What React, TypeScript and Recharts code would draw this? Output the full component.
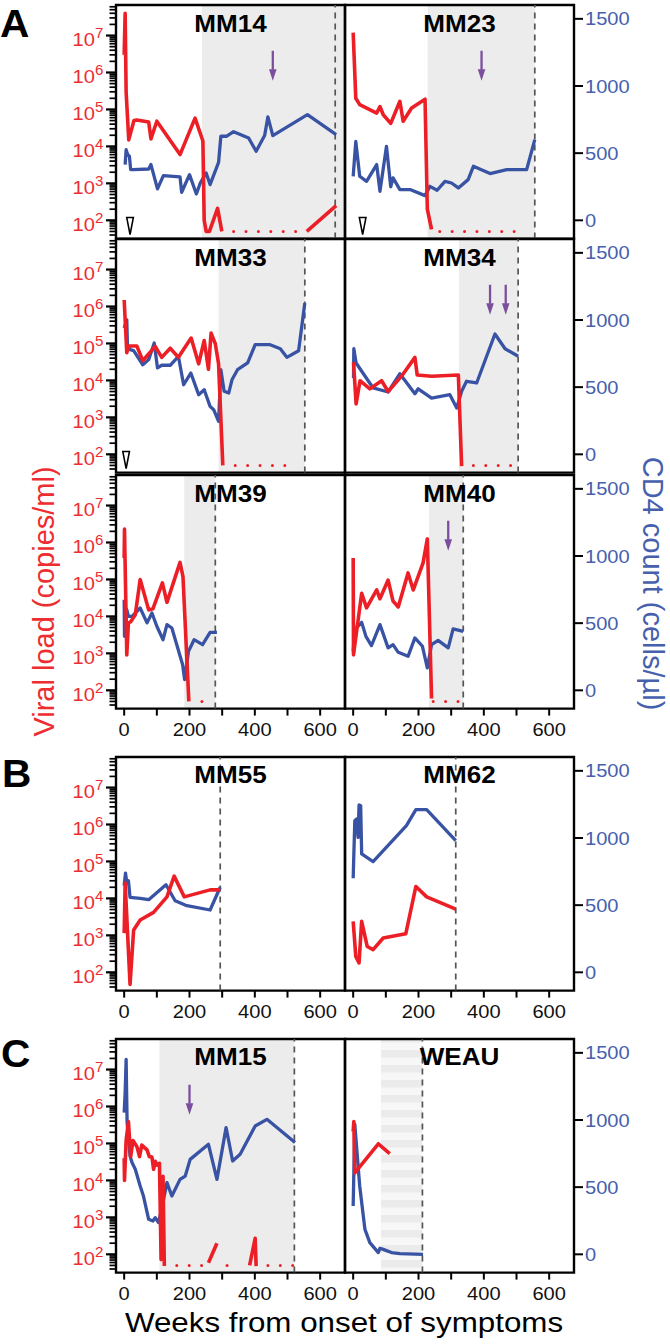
import React from 'react';
import { ComposedChart, Line, XAxis, YAxis, ReferenceArea, ReferenceLine, Scatter } from 'recharts';

const FONT = '"Liberation Sans", Arial, Helvetica, sans-serif';
const RED = '#ec1f27';
const RED_TXT = '#ee2d31';
const BLUE = '#3953a4';
const BLUE_TXT = '#4660ad';
const PURPLE = '#7c4f9e';
const SHADE = '#ececec';

// ---------- axes ----------
const X_DOMAIN = [-25, 676];
const X_TICKS = [0, 100, 200, 300, 400, 500, 600];
const X_LABELS = [0, 200, 400, 600];
const VL_DOMAIN = [32, 6.7e7];
const VL_MAJOR = [1e2, 1e3, 1e4, 1e5, 1e6, 1e7];
const VL_MINOR_MULT = [2, 3, 4, 5, 6, 7, 8, 9];
const VL_DECADES = [10, 100, 1e3, 1e4, 1e5, 1e6, 1e7];
const CD4_DOMAIN = [-136, 1603];
const CD4_TICKS = [0, 500, 1000, 1500];
const DETECTION_LIMIT = 50;
const ARROW_CD4 = 1150;
const TRIANGLE_VL = 70;

// ---------- MM14 ----------
const mm14VlW = [0, 3, 6, 14, 30, 39, 75, 82, 100, 171, 217, 241, 245, 251, 261, 286, 299];
const mm14Vl = [3e6, 4e7, 3e5, 1.5e4, 5e4, 5.2e4, 4.6e4, 1.6e4, 4.8e4, 6e3, 5.8e4, 1.4e4, 100, 50, 50, 210, 50];
const mm14VlTailW = [559, 649];
const mm14VlTail = [50, 250];
const mm14Cd4W = [3, 6, 11, 16, 20, 27, 75, 82, 102, 120, 171, 176, 200, 221, 233, 251, 263, 289, 296, 314, 335, 381, 404, 430, 440, 455, 561, 649];
const mm14Cd4 = [415, 526, 489, 477, 377, 377, 382, 415, 234, 333, 323, 209, 340, 196, 278, 353, 266, 432, 626, 626, 660, 613, 514, 631, 770, 631, 787, 638];

// ---------- MM23 ----------
const mm23VlW = [0, 8, 20, 72, 82, 92, 115, 143, 153, 179, 220, 227, 240];
const mm23Vl = [1.2e7, 2e5, 1.35e5, 8e4, 1.2e5, 7.2e4, 4.2e4, 1.66e5, 4.8e4, 1.1e5, 1.9e5, 200, 57];
const mm23Cd4W = [0, 8, 20, 41, 72, 82, 102, 115, 122, 143, 174, 220, 235, 257, 281, 301, 322, 352, 368, 419, 470, 531, 556];
const mm23Cd4 = [328, 588, 328, 290, 415, 216, 551, 249, 316, 229, 229, 184, 253, 224, 290, 278, 241, 303, 402, 348, 377, 377, 601];

// ---------- MM33 ----------
const mm33VlW = [0, 8, 13, 39, 57, 95, 115, 141, 166, 205, 228, 245, 258, 266, 279, 289, 302];
const mm33Vl = [1.5e6, 5.6e4, 8.5e4, 8.5e4, 3.4e4, 8.3e4, 4.2e4, 7.4e4, 4.2e4, 1.4e5, 2.8e4, 1.2e5, 2e4, 1.9e5, 9.8e4, 2.8e4, 50];
const mm33Cd4W = [0, 8, 10, 18, 29, 57, 75, 92, 102, 115, 141, 166, 182, 204, 228, 245, 263, 274, 289, 296, 306, 320, 330, 347, 378, 401, 447, 478, 498, 534, 553];
const mm33Cd4 = [940, 1002, 816, 779, 772, 667, 705, 829, 643, 663, 663, 730, 518, 605, 444, 481, 357, 332, 246, 630, 469, 456, 555, 630, 680, 816, 816, 786, 722, 771, 1127];

// ---------- MM34 ----------
const mm34VlW = [1, 9, 21, 51, 87, 107, 148, 189, 196, 240, 322, 332];
const mm34Vl = [3.1e4, 2.3e3, 9.8e3, 5.9e3, 9.8e3, 5e3, 1.3e4, 4.2e4, 1.4e4, 1.3e4, 1.4e4, 48];
const mm34Cd4W = [1, 2, 9, 61, 107, 143, 189, 199, 240, 296, 317, 332, 347, 378, 434, 465, 505];
const mm34Cd4 = [568, 786, 680, 494, 464, 600, 451, 488, 419, 444, 345, 469, 544, 531, 896, 786, 730];

// ---------- MM39 ----------
const mm39VlW = [0, 1, 8, 13, 20, 34, 49, 75, 88, 117, 131, 171, 180, 198];
const mm39Vl = [3.8e5, 2.3e6, 910, 6.6e3, 7.2e3, 1.1e4, 1e5, 1.5e4, 1.6e4, 8.1e4, 2.4e4, 2.9e5, 1.2e5, 50];
const mm39Cd4W = [0, 1, 8, 13, 24, 49, 70, 85, 100, 119, 131, 146, 179, 185, 197, 214, 240, 263, 284];
const mm39Cd4 = [675, 402, 601, 551, 551, 613, 502, 576, 477, 377, 489, 464, 191, 80, 290, 377, 340, 432, 432];

// ---------- MM40 ----------
const mm40VlW = [0, 1, 26, 41, 72, 82, 107, 122, 138, 168, 184, 214, 227, 240];
const mm40Vl = [3.8e5, 910, 4.2e4, 1.7e4, 5.2e4, 3e4, 9.6e4, 2.6e4, 1.8e4, 1.5e5, 5.2e4, 2.8e5, 1.25e6, 60];
const mm40Cd4W = [0, 5, 26, 39, 56, 82, 107, 122, 138, 168, 189, 212, 227, 240, 260, 291, 306, 337];
const mm40Cd4 = [290, 452, 506, 402, 333, 489, 316, 340, 283, 253, 390, 328, 167, 340, 372, 316, 457, 439];

// ---------- MM55 ----------
const mm55VlW = [0, 3, 18, 29, 49, 90, 131, 153, 184, 263, 294];
const mm55Vl = [1.15e3, 2.6e4, 47, 1.4e3, 2.6e3, 4.2e3, 1.1e4, 4e4, 1.1e4, 1.7e4, 1.7e4];
const mm55Cd4W = [0, 4, 8, 13, 18, 49, 75, 128, 156, 192, 263, 294];
const mm55Cd4 = [645, 739, 670, 682, 558, 551, 541, 652, 533, 496, 464, 633];

// ---------- MM62 ----------
const mm62VlW = [0, 8, 18, 26, 43, 61, 92, 161, 192, 225, 314];
const mm62Vl = [2.4e3, 270, 180, 2.4e3, 500, 410, 850, 1.1e3, 2.1e4, 1.1e4, 5.1e3];
const mm62Cd4W = [0, 5, 10, 15, 18, 23, 26, 61, 163, 192, 225, 314];
const mm62Cd4 = [700, 1129, 1141, 1005, 1246, 1240, 881, 824, 1092, 1211, 1211, 980];

// ---------- MM15 ----------
const mm15VlW = [0, 1, 6, 13, 20, 27, 39, 47, 54, 70, 77, 85, 90, 95, 100, 108, 113, 119, 123];
const mm15Vl = [4e4, 1e4, 1.2e5, 3.9e5, 4.4e4, 1.2e5, 8.2e4, 4.4e4, 9e4, 6.7e4, 4.4e4, 4.3e4, 2e4, 3.3e4, 2.6e4, 2.9e4, 72, 1.3e4, 48];
const mm15Vl2W = [258, 284];
const mm15Vl2 = [59, 200];
const mm15Vl3W = [384, 401, 404];
const mm15Vl3 = [50, 270, 48];
const mm15Cd4W = [0, 3, 6, 9, 18, 24, 34, 49, 59, 75, 88, 95, 105, 113, 131, 146, 171, 187, 202, 258, 284, 312, 332, 355, 401, 437, 523];
const mm15Cd4 = [1055, 1204, 1452, 981, 732, 683, 633, 509, 434, 261, 248, 273, 236, 320, 534, 434, 558, 583, 707, 819, 558, 943, 695, 745, 955, 1005, 832];

// ---------- WEAU ----------
const weauVlW = [0, 2, 5, 77, 112];
const weauVl = [2.1e5, 3.9e5, 1.6e4, 9.8e4, 5.3e4];
const weauCd4W = [0, 5, 20, 36, 51, 77, 82, 92, 117, 143, 214];
const weauCd4 = [360, 968, 509, 186, 87, 13, 45, 37, 13, 5, 0];

// ---------- layout ----------
const ROW_TOPS = [5.4, 239.4, 475.4, 757.1, 1038.7];
const COL_LEFTS = [116, 345];
const PLOT_W = 229;
const PLOT_H = 233.6;

const vlPts = (w: number[], v: number[]) => w.map((x, i) => ({ w: x, v: v[i] }));
const cdPts = (w: number[], c: number[]) => w.map((x, i) => ({ w: x, c: c[i] }));
const dlPts = (a: number, b: number) => [{ w: a, v: DETECTION_LIMIT }, { w: b, v: DETECTION_LIMIT }];

const VL_TICKS = [
  ...VL_MAJOR,
  ...VL_DECADES.flatMap((d) => VL_MINOR_MULT.map((m) => m * d)).filter((t) => t > VL_DOMAIN[0] && t < VL_DOMAIN[1]),
].sort((a, b) => a - b);

const PANELS: any[] = [
  { name: 'MM14', col: 0, row: 0, vl: [vlPts(mm14VlW, mm14Vl), vlPts(mm14VlTailW, mm14VlTail)], cd4: cdPts(mm14Cd4W, mm14Cd4), dots: [[335, 526]], shade: [238, 676], dashed: 646, arrows: [455], triangle: 18 },
  { name: 'MM23', col: 1, row: 0, vl: [vlPts(mm23VlW, mm23Vl)], cd4: cdPts(mm23Cd4W, mm23Cd4), dots: [[265, 526]], shade: [228, 556], dashed: 556, arrows: [393], triangle: 29 },
  { name: 'MM33', col: 0, row: 1, vl: [vlPts(mm33VlW, mm33Vl)], cd4: cdPts(mm33Cd4W, mm33Cd4), dots: [[340, 529]], shade: [289, 553], dashed: 553, arrows: [], triangle: 6 },
  { name: 'MM34', col: 1, row: 1, vl: [vlPts(mm34VlW, mm34Vl)], cd4: cdPts(mm34Cd4W, mm34Cd4), dots: [[368, 485]], shade: [324, 505], dashed: 505, arrows: [419, 467], triangle: null },
  { name: 'MM39', col: 0, row: 2, showX: true, vl: [vlPts(mm39VlW, mm39Vl)], cd4: cdPts(mm39Cd4W, mm39Cd4), dots: [[238, 273]], shade: [184, 279], dashed: 279, arrows: [], triangle: null },
  { name: 'MM40', col: 1, row: 2, showX: true, vl: [vlPts(mm40VlW, mm40Vl)], cd4: cdPts(mm40Cd4W, mm40Cd4), dots: [[245, 322]], shade: [232, 337], dashed: 337, arrows: [291], triangle: null },
  { name: 'MM55', col: 0, row: 3, showX: true, vl: [vlPts(mm55VlW, mm55Vl)], cd4: cdPts(mm55Cd4W, mm55Cd4), dots: [], shade: null, dashed: 294, arrows: [], triangle: null },
  { name: 'MM62', col: 1, row: 3, showX: true, vl: [vlPts(mm62VlW, mm62Vl)], cd4: cdPts(mm62Cd4W, mm62Cd4), dots: [], shade: null, dashed: 314, arrows: [], triangle: null },
  { name: 'MM15', col: 0, row: 4, showX: true, vl: [vlPts(mm15VlW, mm15Vl), vlPts(mm15Vl2W, mm15Vl2), vlPts(mm15Vl3W, mm15Vl3)], cd4: cdPts(mm15Cd4W, mm15Cd4), dots: [[161, 238], [315, 351], [440, 517]], shade: [108, 521], dashed: 521, arrows: [200], triangle: null },
  { name: 'WEAU', col: 1, row: 4, showX: true, vl: [vlPts(weauVlW, weauVl)], cd4: cdPts(weauCd4W, weauCd4), dots: [], shade: [85, 212], striped: true, dashed: 212, arrows: [], triangle: null },
];

const XTick = (p: any) => {
  const v = p.payload.value;
  if (!X_LABELS.includes(v)) return <g />;
  return (
    <g transform={`translate(${p.x},${p.y}) scale(1.08,1)`}>
      <text textAnchor="middle" dy="0.71em" fontSize={18.6} fill="#111" fontFamily={FONT}>{v}</text>
    </g>
  );
};

const LeftTick = (p: any) => {
  const v = p.payload.value;
  const lg = Math.log10(v);
  const e = Math.round(lg);
  const major = Math.abs(lg - e) < 1e-9;
  return (
    <g>
      <line x1={p.x - (major ? 10 : 6.5)} x2={p.x} y1={p.y} y2={p.y} stroke="#000" strokeWidth={major ? 2.2 : 1.7} />
      {major && (
        <g transform={`translate(${p.x - 12.7},${p.y}) scale(1.08,1)`}>
          <text textAnchor="end" fontFamily={FONT} fill={RED_TXT} y={10.7}>
            <tspan fontSize={18.6}>10</tspan>
            <tspan fontSize={14} dy={-8.4}>{e}</tspan>
          </text>
        </g>
      )}
    </g>
  );
};

const RightTick = (p: any) => (
  <g transform={`translate(${p.x},${p.y}) scale(1.08,1)`}>
    <text textAnchor="start" dy="0.35em" fontSize={18.6} fill={BLUE_TXT} fontFamily={FONT}>{p.payload.value}</text>
  </g>
);

const ArrowShape = (p: any) => {
  const { cx, cy } = p;
  return (
    <g>
      <line x1={cx} x2={cx} y1={cy - 15} y2={cy + 4} stroke={PURPLE} strokeWidth={2.3} />
      <polygon points={`${cx - 3.8},${cy + 3.3} ${cx + 3.8},${cy + 3.3} ${cx},${cy + 15}`} fill={PURPLE} />
    </g>
  );
};

const TriangleShape = (p: any) => {
  const { cx, cy } = p;
  return <polygon points={`${cx - 3.3},${cy - 8.5} ${cx + 3.3},${cy - 8.5} ${cx},${cy + 8.5}`} fill="#fff" stroke="#000" strokeWidth={1.6} strokeLinejoin="miter" />;
};

function Panel({ cfg }: any) {
  const showLeft = cfg.col === 0;
  const showRight = cfg.col === 1;
  const showX = !!cfg.showX;
  const plotLeft = COL_LEFTS[cfg.col];
  const plotTop = ROW_TOPS[cfg.row];
  const chartLeft = showLeft ? 0 : plotLeft - 4;
  const width = showLeft ? 116 + PLOT_W + 4 : 4 + PLOT_W + 96;
  const height = 4 + PLOT_H + (showX ? 44 : 4);
  return (
    <div style={{ position: 'absolute', left: chartLeft, top: plotTop - 4 }}>
      <ComposedChart
        width={width}
        height={height}
        margin={{ top: 4, right: showRight ? 0 : 4, bottom: showX ? 0 : 4, left: showLeft ? 0 : 4 }}
      >
        <XAxis
          type="number"
          dataKey="w"
          domain={X_DOMAIN}
          allowDataOverflow
          ticks={X_TICKS}
          interval={0}
          hide={!showX}
          height={44}
          axisLine={false}
          tickLine={{ stroke: '#000', strokeWidth: 2 }}
          tickSize={7}
          tickMargin={7}
          tick={XTick}
        />
        <YAxis
          yAxisId="vl"
          dataKey="v"
          orientation="left"
          scale="log"
          domain={VL_DOMAIN}
          allowDataOverflow
          ticks={VL_TICKS}
          interval={0}
          hide={!showLeft}
          width={116}
          axisLine={false}
          tickLine={false}
          tickSize={0}
          tickMargin={0}
          tick={LeftTick}
        />
        <YAxis
          yAxisId="cd4"
          dataKey="c"
          orientation="right"
          type="number"
          domain={CD4_DOMAIN}
          allowDataOverflow
          ticks={CD4_TICKS}
          interval={0}
          hide={!showRight}
          width={96}
          axisLine={false}
          tickLine={{ stroke: '#000', strokeWidth: 2 }}
          tickSize={9}
          tickMargin={2}
          tick={RightTick}
        />
        {cfg.shade && (
          <ReferenceArea
            yAxisId="vl"
            x1={cfg.shade[0]}
            x2={cfg.shade[1]}
            fill={cfg.striped ? 'url(#weauStripes)' : SHADE}
            fillOpacity={1}
            stroke="none"
            ifOverflow="hidden"
          />
        )}
        {cfg.dashed != null && (
          <ReferenceLine yAxisId="vl" x={cfg.dashed} stroke="#555" strokeWidth={1.7} strokeDasharray="6 5" />
        )}
        <Line
          yAxisId="cd4"
          data={cfg.cd4}
          dataKey="c"
          stroke={BLUE}
          strokeWidth={3.3}
          dot={false}
          isAnimationActive={false}
          strokeLinejoin="round"
        />
        {cfg.vl.map((seg: any, i: number) => (
          <Line
            key={'vl' + i}
            yAxisId="vl"
            data={seg}
            dataKey="v"
            stroke={RED}
            strokeWidth={3.6}
            dot={false}
            isAnimationActive={false}
            strokeLinejoin="round"
          />
        ))}
        {cfg.dots.map((d: number[], i: number) => (
          <Line
            key={'dl' + i}
            yAxisId="vl"
            data={dlPts(d[0], d[1])}
            dataKey="v"
            stroke={RED}
            strokeWidth={3}
            strokeDasharray="0 12.4"
            strokeLinecap="round"
            dot={false}
            isAnimationActive={false}
          />
        ))}
        {cfg.arrows.length > 0 && (
          <Scatter
            yAxisId="cd4"
            data={cfg.arrows.map((w: number) => ({ w, c: ARROW_CD4 }))}
            dataKey="c"
            shape={ArrowShape}
            isAnimationActive={false}
          />
        )}
        {cfg.triangle != null && (
          <Scatter
            yAxisId="vl"
            data={[{ w: cfg.triangle, v: TRIANGLE_VL }]}
            dataKey="v"
            shape={TriangleShape}
            isAnimationActive={false}
          />
        )}
        <ReferenceArea
          yAxisId="vl"
          x1={X_DOMAIN[0]}
          x2={X_DOMAIN[1]}
          y1={VL_DOMAIN[0]}
          y2={VL_DOMAIN[1]}
          fill="none"
          stroke="#000"
          strokeWidth={2.4}
          ifOverflow="visible"
        />
      </ComposedChart>
    </div>
  );
}

export default function App() {
  return (
    <div style={{ position: 'absolute', left: 0, top: 0, width: 670, height: 1344, background: '#fff', fontFamily: FONT }}>
      <svg width={0} height={0} style={{ position: 'absolute' }}>
        <defs>
          <pattern id="weauStripes" patternUnits="userSpaceOnUse" width={20} height={15}>
            <rect x={0} y={0} width={20} height={15} fill="#f7f7f7" />
            <rect x={0} y={0} width={20} height={7.5} fill="#ebebeb" />
          </pattern>
        </defs>
      </svg>
      {PANELS.map((cfg) => (
        <Panel key={cfg.name} cfg={cfg} />
      ))}
      <svg width={670} height={1344} style={{ position: 'absolute', left: 0, top: 0, pointerEvents: 'none' }}>
        {PANELS.map((cfg) => (
          <g key={cfg.name} transform={`translate(${COL_LEFTS[cfg.col] + PLOT_W / 2},${ROW_TOPS[cfg.row] + 26.3}) scale(1.1,1)`}>
            <text textAnchor="middle" fontWeight="bold" fontSize={23.7} fontFamily={FONT} fill="#000">{cfg.name}</text>
          </g>
        ))}
        <g transform="translate(0,37) scale(1.07,1)">
          <text fontWeight="bold" fontSize={38} fontFamily={FONT} fill="#000">A</text>
        </g>
        <g transform="translate(2,787) scale(1.07,1)">
          <text fontWeight="bold" fontSize={38} fontFamily={FONT} fill="#000">B</text>
        </g>
        <g transform="translate(1,1067) scale(1.07,1)">
          <text fontWeight="bold" fontSize={38} fontFamily={FONT} fill="#000">C</text>
        </g>
        <text transform="translate(54,601.5) rotate(-90)" textAnchor="middle" fontSize={29} fontFamily={FONT} fill={RED_TXT}>
          Viral load (copies/ml)
        </text>
        <text transform="translate(643,583.5) rotate(90)" textAnchor="middle" fontSize={29} fontFamily={FONT} fill={BLUE_TXT}>
          CD4 count (cells/µl)
        </text>
        <g transform="translate(344,1331.7) scale(1.1,1)">
          <text textAnchor="middle" fontSize={28.5} fontFamily={FONT} fill="#000">Weeks from onset of symptoms</text>
        </g>
      </svg>
    </div>
  );
}
